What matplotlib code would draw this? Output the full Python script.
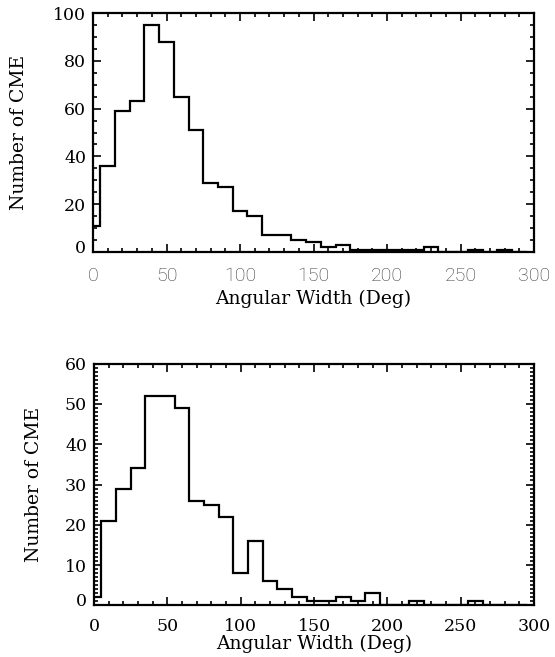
import numpy as np
import matplotlib
matplotlib.use("Agg")
import matplotlib.pyplot as plt
from matplotlib.ticker import MultipleLocator
from matplotlib.transforms import ScaledTranslation
from matplotlib.font_manager import FontProperties

# Bin centres (deg) and counts
bin_centers = list(range(0, 300, 10))
counts_top = [11, 36, 59, 63, 95, 88, 65, 51, 29, 27, 17, 15, 7, 7, 5,
              4, 2, 3, 1, 1, 1, 1, 1, 2, 0, 0, 1, 0, 1, 0]
counts_bottom = [2, 21, 29, 34, 52, 52, 49, 26, 25, 22, 8, 16, 6, 4, 2,
                 1, 1, 2, 1, 3, 0, 0, 1, 0, 0, 0, 1, 0, 0, 0]

xlabel_text = "Angular Width (Deg)"
ylabel_text = "Number of CME"

fig = plt.figure(figsize=(5.55, 6.57), dpi=100)
serif = ["DejaVu Serif"]

def edges_from(centers):
    c = np.asarray(centers, dtype=float)
    e = np.concatenate([[c[0]], (c[:-1] + c[1:]) / 2.0, [c[-1] + 5]])
    return e

def setup(ax, ymax, ymajor, yminor, xtick_font, ylab_x, xpad, lpad):
    ax.set_xlim(0, 300)
    ax.set_ylim(0, ymax)
    ax.xaxis.set_major_locator(MultipleLocator(50))
    ax.xaxis.set_minor_locator(MultipleLocator(10))
    ax.yaxis.set_major_locator(MultipleLocator(ymajor))
    ax.yaxis.set_minor_locator(MultipleLocator(yminor))
    ax.tick_params(which="both", direction="in", top=True, right=True,
                   color="black", width=1.2)
    ax.tick_params(which="major", length=6)
    ax.tick_params(which="minor", length=3)
    ax.tick_params(axis="x", which="major", pad=xpad)
    ax.tick_params(axis="y", which="major", pad=5)
    for s in ax.spines.values():
        s.set_linewidth(1.6)
    for lab in ax.get_yticklabels():
        lab.set_family(serif)
        lab.set_fontsize(12.5)
    for lab in ax.get_xticklabels():
        lab.set_fontproperties(xtick_font)
    ax.set_ylabel(ylabel_text, family=serif, fontsize=13.5)
    ax.yaxis.set_label_coords(ylab_x, 0.5)
    ax.set_xlabel(xlabel_text, family=serif, fontsize=13.5, labelpad=lpad)

ax1 = fig.add_axes([0.1676, 0.6164, 0.7946, 0.3638])
ax1.stairs(counts_top, edges_from(bin_centers), baseline=None,
           color="black", linewidth=1.6)
fp_light = FontProperties(family="Roboto", weight="light", size=14)
setup(ax1, 100, 20, 5, fp_light, -0.147, 11, 3)
for lab in ax1.get_xticklabels():
    lab.set_color("#3a3a3a")

ax2 = fig.add_axes([0.1694, 0.0784, 0.7928, 0.3683])
ax2.stairs(counts_bottom, edges_from(bin_centers), baseline=None,
           color="black", linewidth=1.6)
fp_serif = FontProperties(family="DejaVu Serif", size=12.5)
setup(ax2, 60, 10, 1, fp_serif, -0.117, 9, 0)

# raise the zero labels slightly as in the reference
for ax in (ax1, ax2):
    for lab in ax.get_yticklabels():
        if lab.get_text() == "0":
            lab.set_transform(lab.get_transform() +
                              ScaledTranslation(0, 4/72, fig.dpi_scale_trans))

fig.savefig("out.png", dpi=100)
